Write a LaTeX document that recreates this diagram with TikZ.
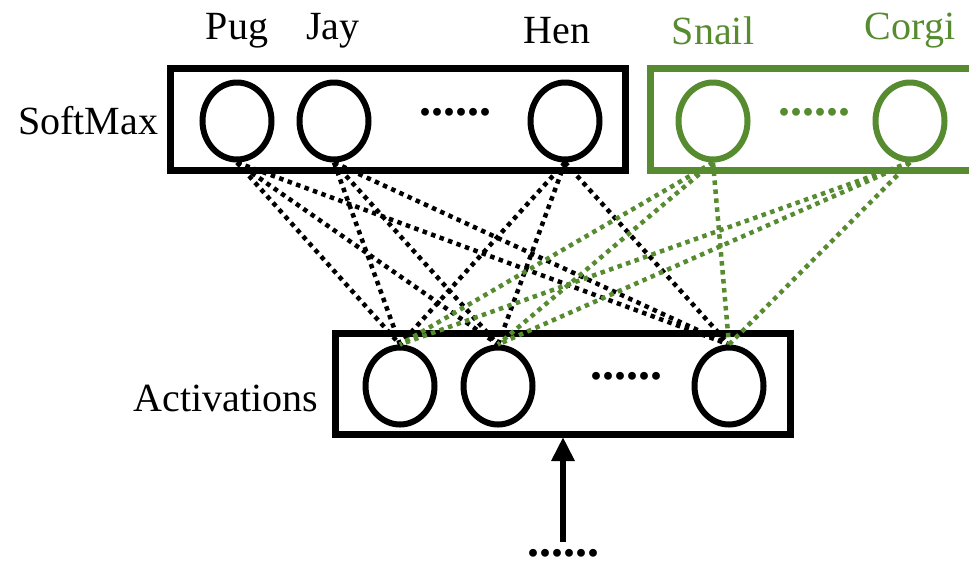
\documentclass[tikz,border=0pt]{standalone}
\usepackage{fontspec}
\setmainfont{Liberation Serif}
\usetikzlibrary{shapes.geometric,arrows.meta}
\definecolor{lgreen}{RGB}{86,139,48}
\begin{document}
\begin{tikzpicture}[x=1pt,y=-1pt,
  lbl/.style={font=\fontsize{40}{44}\selectfont, inner sep=0pt},
  neuron/.style={ellipse, draw, line width=6pt, minimum width=69pt, minimum height=77pt, inner sep=0pt},
  layerbox/.style={draw, line width=7pt},
  wire/.style={line width=4.5pt, dash pattern=on 4.5pt off 4.5pt},
  dotsl/.style={font=\fontsize{48}{52}\selectfont\bfseries, inner sep=0pt}]
\useasboundingbox (0,0) rectangle (969,566);
\clip (0,0) rectangle (969,566);
% boxes
\draw[layerbox] (170,68) rectangle (625,170);
\draw[layerbox, lgreen] (650,68) rectangle (985,170);
\draw[layerbox] (335,333) rectangle (790,434);
% top neurons
\node[neuron] (pug) at (237,121) {};
\node[neuron] (jay) at (334,121) {};
\node[neuron] (hen) at (565,121) {};
\node[neuron, lgreen] (snail) at (713,121) {};
\node[neuron, lgreen] (corgi) at (910,121) {};
\node[dotsl] (d1) at (455,112) {......};
\node[dotsl, text=lgreen] (d2) at (814,112) {......};
% labels
\node[lbl] (tpug) at (237,31) {Pug};
\node[lbl] (tjay) at (333,31) {Jay};
\node[lbl] (then) at (557,31) {Hen};
\node[lbl, text=lgreen] (tsnail) at (713,31) {Snail};
\node[lbl, text=lgreen] (tcorgi) at (910,31) {Corgi};
\node[lbl] (tsoft) at (88,121) {SoftMax};
\node[lbl] (tact) at (226,398) {Activations};
% bottom neurons
\node[neuron] (a1) at (400,386) {};
\node[neuron] (a2) at (498,386) {};
\node[neuron] (a3) at (729,386) {};
\node[dotsl] (d3) at (626,376) {......};
% wires
\foreach \s in {pug,jay,hen}{
  \foreach \t in {a1,a2,a3}{
    \draw[wire] (\s.south) -- (\t.north);
  }
}
\foreach \s in {snail,corgi}{
  \foreach \t in {a1,a2,a3}{
    \draw[wire, lgreen] (\s.south) -- (\t.north);
  }
}
% input arrow
\node[dotsl] (d4) at (563,553) {......};
\coordinate (boxbot) at (563,437);
\coordinate (arrowstart) at (563,542);
\draw[line width=6pt, -{Triangle[width=22pt,length=24pt]}] (arrowstart) -- (boxbot);
\end{tikzpicture}
\end{document}
